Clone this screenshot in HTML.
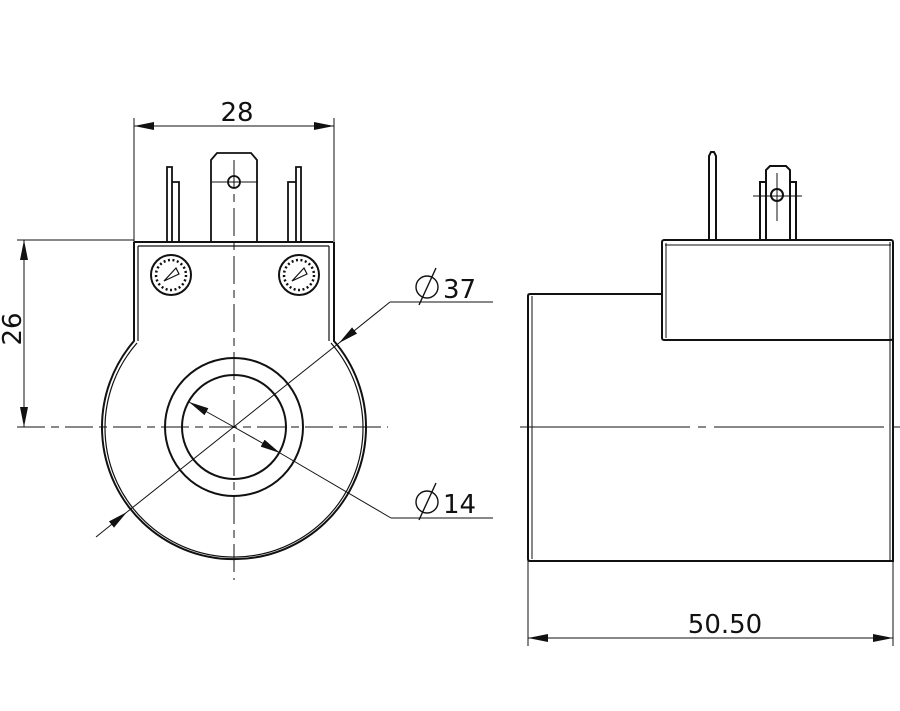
<!DOCTYPE html>
<html><head><style>html,body{margin:0;padding:0;background:#fff}svg{display:block}</style></head>
<body>
<svg width="900" height="711" viewBox="0 0 900 711" xmlns="http://www.w3.org/2000/svg" font-family="'DejaVu Sans','Liberation Sans',sans-serif">
<defs>
<marker id="a" viewBox="0 0 20 8" refX="20" refY="4" markerWidth="20" markerHeight="8" markerUnits="userSpaceOnUse" orient="auto"><path d="M0,0 L20,4 L0,8z" fill="#111"/></marker>
</defs>
<g stroke="#111" fill="none">
<line x1="17" y1="427" x2="388" y2="427" stroke-width="1" stroke-dasharray="28,6,8,6"/>
<line x1="234" y1="160" x2="234" y2="580" stroke-width="1" stroke-dasharray="28,6,8,6"/>
<g stroke-width="2">
<path d="M134,242 L333,242"/>
<path d="M134,242 L134,341 A132,132 0 1 0 334,341 L334,242"/>
</g>
<path d="M138,246 L329,246 M138,246 L138,341 M329,246 L329,341" stroke-width="1.2"/>
<path d="M137,343 A129,129 0 1 0 331,343" stroke-width="1.2"/>
<circle cx="234" cy="427" r="69" stroke-width="2"/>
<circle cx="234" cy="427" r="52" stroke-width="2"/>
<g stroke-width="1.8">
<path d="M211,242 V160 L217,153 H251 L257,160 V242"/>
<path d="M167,242 V167 H172 V242 M172,182 H179 V242"/>
<path d="M301,242 V167 H296 V242 M296,182 H288 V242"/>
<circle cx="234" cy="182" r="6"/>
</g>
<line x1="211" y1="182" x2="258" y2="182" stroke-width="1"/>
<circle cx="171" cy="275" r="20" stroke-width="2"/>
<circle cx="299" cy="275" r="20" stroke-width="2"/>
<g stroke-width="2.5" stroke-dasharray="2,2.5"><circle cx="171" cy="275" r="15"/><circle cx="299" cy="275" r="15"/></g>
<path d="M164,281 L176,268 L179,274z M292,281 L304,268 L307,274z" stroke-width="1.2"/>
<g stroke-width="1">
<line x1="134" y1="118" x2="134" y2="242"/>
<line x1="334" y1="118" x2="334" y2="242"/>
<line x1="180" y1="126" x2="134" y2="126" marker-end="url(#a)"/>
<line x1="180" y1="126" x2="334" y2="126" marker-end="url(#a)"/>
<line x1="17" y1="240" x2="134" y2="240"/>
<line x1="24" y1="330" x2="24" y2="240" marker-end="url(#a)"/>
<line x1="24" y1="330" x2="24" y2="427" marker-end="url(#a)"/>
<line x1="96" y1="537" x2="127" y2="512" marker-end="url(#a)"/>
<line x1="390" y1="302" x2="339" y2="343" marker-end="url(#a)"/>
<line x1="339" y1="343" x2="127" y2="512"/>
<line x1="390" y1="302" x2="493" y2="302"/>
<line x1="234" y1="427" x2="189" y2="402" marker-end="url(#a)"/>
<line x1="234" y1="427" x2="280" y2="453" marker-end="url(#a)"/>
<line x1="280" y1="453" x2="391" y2="518"/>
<line x1="391" y1="518" x2="493" y2="518"/>
</g>
<line x1="520" y1="427" x2="900" y2="427" stroke-width="1" stroke-dasharray="170,8,8,8"/>
<g stroke-width="2">
<path d="M662,294 H530 Q528,294 528,296 V559 Q528,561 530,561 H893 V242"/>
<rect x="662" y="240" width="231" height="100" rx="2"/>
<path d="M709,240 V156 L711,152 H714 L716,156 V240"/>
<path d="M760,240 V182 H766 V170 L770,166 H786 L790,170 V182 H796 V240 M766,182 V240 M790,182 V240"/>
<circle cx="777" cy="195" r="6"/>
</g>
<path d="M532,296 V559 M666,243 V338 M665,245 H891 M890,242 V560" stroke-width="1"/>
<path d="M753,196 H802 M777,173 V221" stroke-width="1"/>
<g stroke-width="1">
<line x1="528" y1="561" x2="528" y2="646"/>
<line x1="893" y1="561" x2="893" y2="646"/>
<line x1="700" y1="638" x2="528" y2="638" marker-end="url(#a)"/>
<line x1="700" y1="638" x2="893" y2="638" marker-end="url(#a)"/>
</g>
</g>
<g fill="#111" font-size="26">
<text x="237" y="121" text-anchor="middle">28</text>
<text transform="translate(21,329) rotate(-90)" text-anchor="middle">26</text>
<text x="443" y="298">37</text>
<text x="443" y="513">14</text>
<text x="725" y="633" text-anchor="middle">50.50</text>
</g>
<g stroke="#111" fill="none" stroke-width="1.4">
<circle cx="427" cy="287" r="11"/><line x1="419" y1="305" x2="436" y2="268"/>
<circle cx="427" cy="502" r="11"/><line x1="419" y1="520" x2="436" y2="483"/>
</g>
</svg>
</body></html>
